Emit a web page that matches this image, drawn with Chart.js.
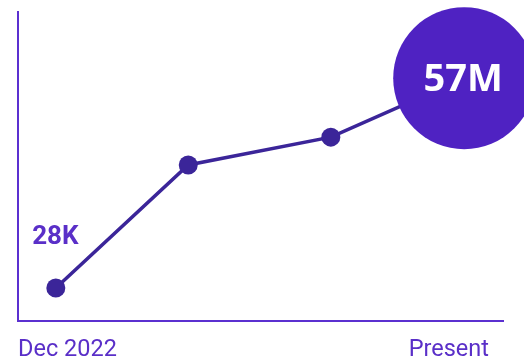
<!DOCTYPE html>
<html>
<head>
<meta charset="utf-8">
<script src="https://cdn.jsdelivr.net/npm/chart.js@4"></script>
<style>
  html, body { margin: 0; padding: 0; background: #ffffff; }
  #wrap { width: 524px; height: 359px; position: relative; }
</style>
</head>
<body>
<div id="wrap"><canvas id="graph"></canvas></div>
<script>
// growth points, x and y on a 0-100 scale
var xValues = [7.8, 35.1, 64.5, 92.0];
var yValues = [10.7, 50.5, 59.5, 78.6];
var pointLabels = ['28K', '', '', '57M'];
// bottom axis labels and where they sit
var axisLabels = ['Dec 2022', 'Present'];
var axisTicks = [0, 97.1];

var lineColor = '#3b2599';
var bigColor = '#4f22c2';
var axisColor = '#5b30d0';
var textColor = '#5a2fc8';

var points = [];
for (var i = 0; i < xValues.length; i++) {
    points.push({ x: xValues[i], y: yValues[i] });
}

// draw 28K beside the first point and 57M inside the big one
var labelPlugin = {
    id: 'pointText',
    afterDatasetsDraw: function(chart) {
        var ctx = chart.ctx;
        var meta = chart.getDatasetMeta(0);
        ctx.save();
        ctx.textAlign = 'center';
        ctx.textBaseline = 'middle';
        // first point label
        var p0 = meta.data[0];
        ctx.fillStyle = textColor;
        ctx.font = 'bold 26px Roboto';
        ctx.fillText(pointLabels[0], p0.x - 0.5, p0.y - 50);
        // last point label
        var p3 = meta.data[3];
        ctx.fillStyle = '#ffffff';
        ctx.font = 'bold 38px "Open Sans"';
        ctx.fillText(pointLabels[3], p3.x - 1, p3.y + 2);
        ctx.restore();
    }
};

var ctx = document.getElementById('graph').getContext('2d');
var myLineChart = new Chart(ctx, {
    type: 'line',
    data: {
        datasets: [{
            data: points,
            borderColor: lineColor,
            borderWidth: 3.5,
            pointBackgroundColor: [lineColor, lineColor, lineColor, bigColor],
            pointBorderWidth: 0,
            pointRadius: [9.5, 9.5, 9.5, 71],
            pointHoverRadius: [9.5, 9.5, 9.5, 71],
            tension: 0,
            clip: false
        }]
    },
    options: {
        responsive: true,
        maintainAspectRatio: false,
        animation: false,
        layout: { autoPadding: false, padding: { left: 18, top: 12, right: 21, bottom: 0 } },
        plugins: { legend: { display: false }, tooltip: { enabled: false } },
        scales: {
            x: {
                type: 'linear',
                min: 0,
                max: 100,
                grid: { display: false, drawTicks: false },
                border: { color: axisColor, width: 2 },
                afterBuildTicks: function(scale) {
                    scale.ticks = axisTicks.map(function(v) { return { value: v }; });
                },
                afterFit: function(scale) { scale.height = 38; },
                ticks: {
                    align: 'inner',
                    autoSkip: false,
                    maxRotation: 0,
                    padding: 15,
                    color: textColor,
                    font: { family: 'Roboto', size: 23.5 },
                    callback: function(value, index) { return axisLabels[index]; }
                }
            },
            y: {
                min: 0,
                max: 100,
                grid: { display: false, drawTicks: false },
                border: { color: axisColor, width: 2 },
                ticks: { display: false },
                afterFit: function(scale) { scale.width = 0; }
            }
        }
    },
    plugins: [labelPlugin]
});
</script>
</body>
</html>
